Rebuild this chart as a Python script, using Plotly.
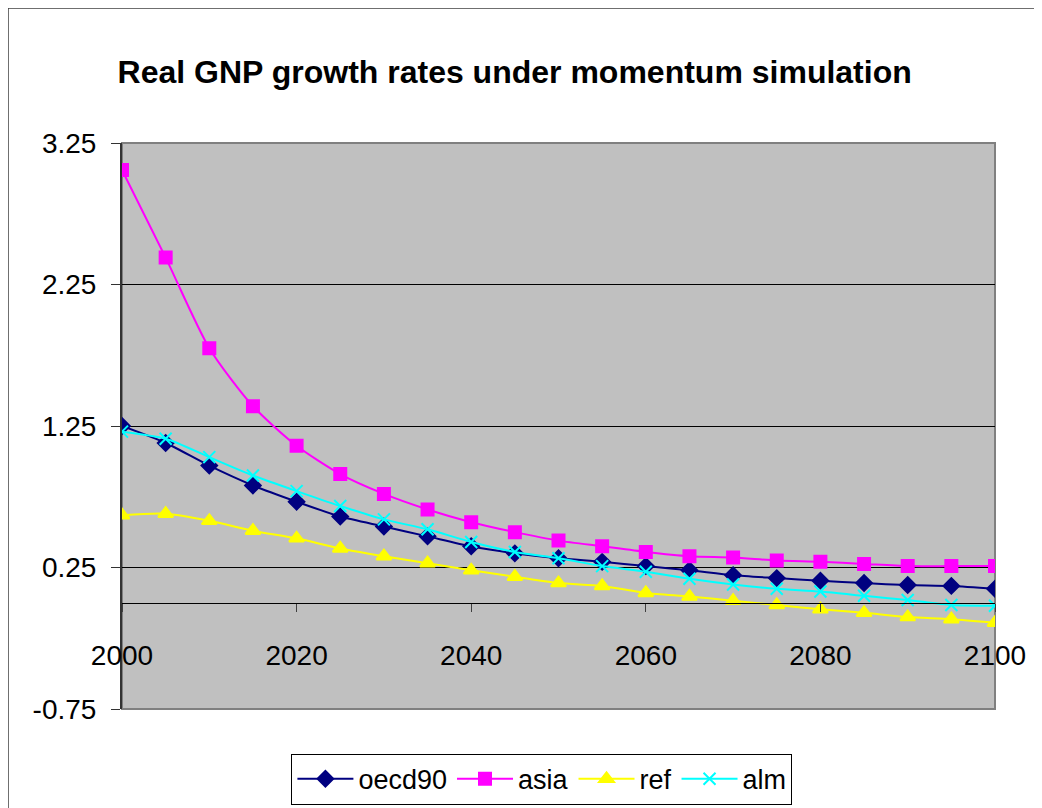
import plotly.graph_objects as go

years = list(range(2000, 2101, 5))

oecd90 = [1.25, 1.13, 0.97, 0.83, 0.715, 0.61, 0.54, 0.47, 0.40, 0.35, 0.315,
          0.29, 0.26, 0.23, 0.195, 0.175, 0.157, 0.14, 0.126, 0.12, 0.10]
asia = [3.06, 2.44, 1.80, 1.39, 1.11, 0.91, 0.77, 0.66, 0.57, 0.50, 0.44,
        0.40, 0.36, 0.33, 0.32, 0.30, 0.29, 0.275, 0.26, 0.26, 0.26]
ref = [0.62, 0.63, 0.58, 0.51, 0.456, 0.385, 0.33, 0.28, 0.23, 0.185, 0.14,
       0.12, 0.07, 0.045, 0.015, -0.015, -0.045, -0.07, -0.10, -0.115, -0.14]
alm = [1.21, 1.16, 1.03, 0.90, 0.79, 0.685, 0.59, 0.52, 0.43, 0.36, 0.315,
       0.26, 0.22, 0.17, 0.13, 0.10, 0.08, 0.05, 0.02, -0.015, -0.02]

y_ticks = [-0.75, 0.25, 1.25, 2.25, 3.25]
y_labels = ["-0.75", "0.25", "1.25", "2.25", "3.25"]

FONT = "Arial, Liberation Sans, sans-serif"

series = [
    ("oecd90", oecd90, "#000080", "diamond", 12),
    ("asia", asia, "#FF00FF", "square", 12),
    ("ref", ref, "#FFFF00", "triangle-up", 13),
    ("alm", alm, "#00FFFF", "x-thin-open", 12),
]

fig = go.Figure()
for name, vals, color, symbol, size in series:
    fig.add_trace(go.Scatter(
        x=years, y=vals, name=name,
        mode="lines+markers",
        line=dict(color=color, width=2, shape="spline", smoothing=0.7),
        marker=dict(symbol=symbol, size=size, color=color,
                    line=dict(color=color, width=2)),
    ))

# position of y=0 inside the plot, for the crossing x axis
y_min, y_max = y_ticks[0], y_ticks[-1]
zero_pos = (0 - y_min) / (y_max - y_min)

# page body has an 8px margin, so the figure is 8px smaller than the window
fig.update_layout(
    width=1034,
    height=800,
    margin=dict(l=114, r=47, t=135, b=99, autoexpand=False),
    paper_bgcolor="white",
    plot_bgcolor="#C0C0C0",
    font=dict(family=FONT, size=28, color="black"),
    title=dict(
        text="<b>Real GNP growth rates under momentum simulation</b>",
        font=dict(family=FONT, size=32, color="black"),
        x=0.49, xref="container", xanchor="center",
        y=0.92, yref="container", yanchor="middle",
    ),
    xaxis=dict(
        range=[2000, 2100],
        dtick=20,
        tick0=2000,
        anchor="free",
        position=zero_pos,
        showline=True,
        linecolor="black",
        linewidth=1,
        ticks="outside",
        ticklen=8,
        tickcolor="#404040",
        ticklabelstandoff=20,
        showgrid=False,
        zeroline=False,
        tickfont=dict(size=28),
    ),
    yaxis=dict(
        range=[y_min, y_max],
        tickvals=y_ticks,
        ticktext=y_labels,
        showline=True,
        linecolor="#333333",
        linewidth=2,
        ticks="outside",
        ticklen=9,
        tickcolor="#333333",
        ticklabelstandoff=9,
        showgrid=True,
        gridcolor="black",
        gridwidth=1,
        zeroline=False,
        tickfont=dict(size=28),
    ),
    legend=dict(
        orientation="h",
        x=0.481, xanchor="center",
        y=-0.079, yanchor="top",
        bgcolor="white",
        bordercolor="black",
        borderwidth=1,
        itemwidth=56,
        font=dict(family=FONT, size=27, color="black"),
    ),
    showlegend=True,
    shapes=[
        # plot area border
        dict(type="rect", xref="paper", yref="paper", x0=0, x1=1, y0=0, y1=1,
             line=dict(color="#808080", width=2), layer="below"),
        # outer chart frame
        dict(type="rect", xref="paper", yref="paper",
             x0=-114 / 873, x1=1.06, y0=-0.2, y1=1 + 135 / 566,
             line=dict(color="#404040", width=1.5), layer="below"),
    ],
)

fig.write_html("out.html")
